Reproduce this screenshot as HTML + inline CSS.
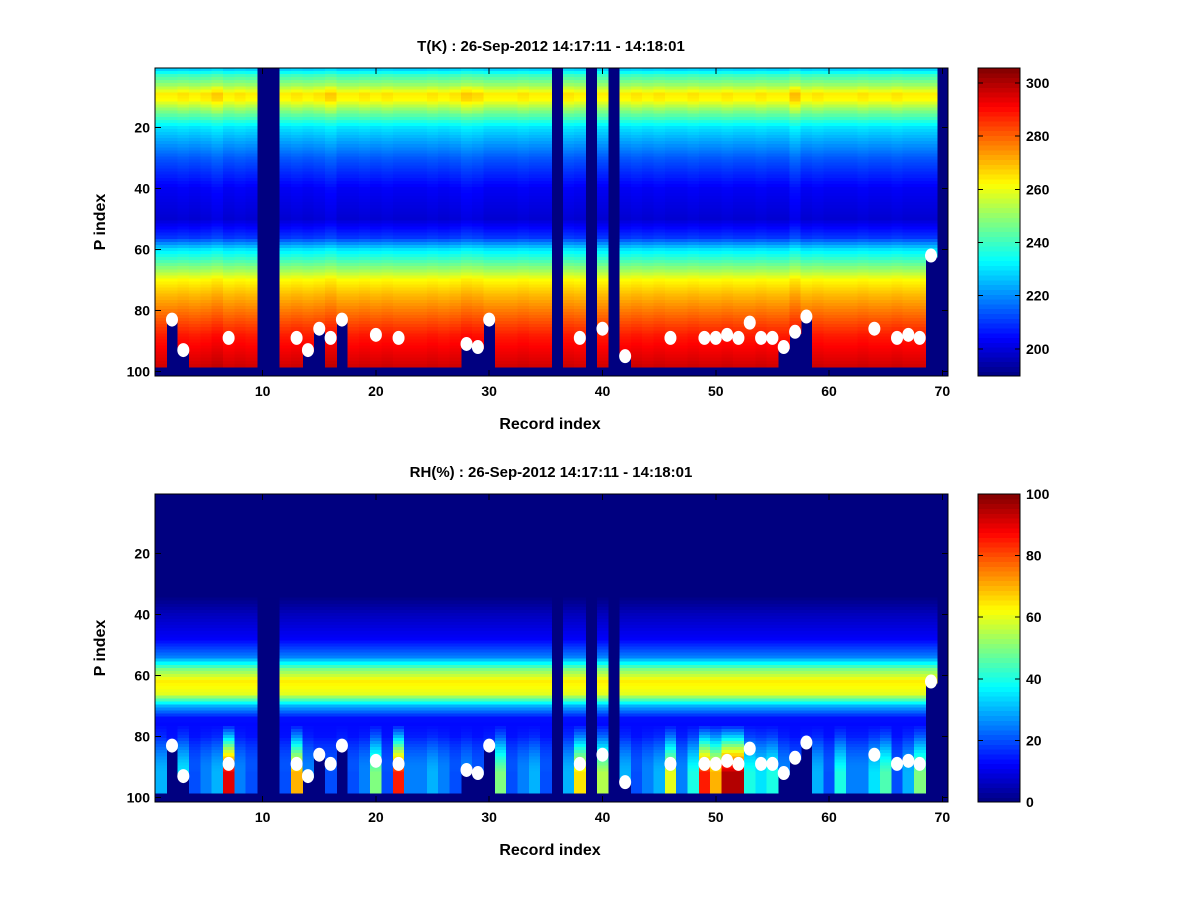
<!DOCTYPE html>
<html><head><meta charset="utf-8">
<style>
body{margin:0;background:#fff;}
svg text{font-family:"Liberation Sans",sans-serif;font-weight:bold;}
</style></head>
<body>
<svg id="fig" width="1200" height="900" xmlns="http://www.w3.org/2000/svg" shape-rendering="crispEdges">
<rect width="1200" height="900" fill="#fff"/>
</svg>
<script>
// ---- data ----
const records = Array.from({length:70},(_,i)=>i+1);
const missingCols = [10,11,36,39,41,70];
const dotCols = [2,3,7,13,14,15,16,17,20,22,28,29,30,38,40,42,46,49,50,51,52,53,54,55,56,57,58,64,66,67,68,69];
const dotP    = [83,93,89,89,93,86,89,83,88,89,91,92,83,89,86,95,89,89,89,88,89,84,89,89,92,87,82,86,89,88,89,62];
const darkBelowCols = [2,3,14,15,17,28,29,30,42,56,57,58,69];
const tProfP = [1,3,6,9,11,14,20,30,40,50,56,60,65,70,75,80,88,98];
const tProfV = [228,240,250,264,262,250,230,214,203,199,210,230,245,262,270,277,288,296];
const tColOff = [0,0,1,0,1,3,0,1,0,0,0,0,1,0,1,3,0,0,1,0,1,0,0,0,1,0,1,3,2,0,0,0,1,0,0,0,1,0,0,0,0,0,1,0,1,0,0,1,0,0,1,0,0,1,0,0,4,0,1,0,0,0,1,0,0,1,0,0,0,0];
const rhProfP = [1,34,40,48,54,58,62,66,70,74,80,86,92,98];
const rhProfV = [0,0,6,12,25,50,64,60,30,14,12,18,28,35];
const rhLow = [30,20,35,20,25,30,90,25,20,0,0,20,70,25,20,20,25,20,25,50,20,85,25,25,30,25,20,25,20,25,50,20,25,30,20,0,30,65,0,55,0,30,20,25,30,60,25,40,85,70,95,95,40,35,40,25,20,25,30,20,40,25,25,35,45,20,30,50,0,0];
const tTicks = [200,220,240,260,280,300];
const rhTicks = [0,20,40,60,80,100];
const xTicks = [10,20,30,40,50,60,70];
const yTicks = [20,40,60,80,100];

const svg=document.getElementById('fig');
const NS='http://www.w3.org/2000/svg';
function mk(tag,attrs,parent){const e=document.createElementNS(NS,tag);for(const k in attrs)e.setAttribute(k,attrs[k]);(parent||svg).appendChild(e);return e;}
function interp(P,V,p){if(p<=P[0])return V[0];for(let i=1;i<P.length;i++){if(p<=P[i]){const t=(p-P[i-1])/(P[i]-P[i-1]);return V[i-1]+t*(V[i]-V[i-1]);}}return V[V.length-1];}
function jet(t){t=Math.max(0,Math.min(1,t));const r=Math.max(0,Math.min(1,1.5-Math.abs(4*t-3)));const g=Math.max(0,Math.min(1,1.5-Math.abs(4*t-2)));const b=Math.max(0,Math.min(1,1.5-Math.abs(4*t-1)));return `rgb(${Math.round(r*255)},${Math.round(g*255)},${Math.round(b*255)})`;}

function panel(y0,title,valFn,vmin,vmax,cTicks,name){
  const x0=155,x1=948,y1=y0+308;
  const xs=v=>x0+(v-0.5)*(x1-x0)/70;
  const ys=v=>y0+(v-0.5)*(y1-y0)/101;
  const g=mk('g',{});
  
  
  const dark=jet(0);
  mk('rect',{x:x0,y:y0,width:x1-x0,height:y1-y0,fill:dark},g);
  records.forEach((c,ci)=>{
    if(missingCols.includes(c))return;
    const di=dotCols.indexOf(c);
    const cut=(di>=0&&darkBelowCols.includes(c))?dotP[di]:99;
    for(let p=1;p<=98;p++){
      if(p>cut)break;
      const v=valFn(c,ci,p);
      const r=mk('rect',{x:xs(c-0.5),y:ys(p-0.5),width:(x1-x0)/70+0.6,height:(y1-y0)/101+0.6,fill:jet((v-vmin)/(vmax-vmin))},g);
      
      
    }
  });
  dotCols.forEach((c,i)=>{
    const d=mk('ellipse',{cx:xs(c),cy:ys(dotP[i]),rx:6,ry:7,fill:'#fff','shape-rendering':'auto'});
    
    
  });
  mk('rect',{x:x0,y:y0,width:x1-x0,height:y1-y0,fill:'none',stroke:'#000','stroke-width':1});
  xTicks.forEach(t=>{
    mk('line',{x1:xs(t),x2:xs(t),y1:y1,y2:y1-6,stroke:'#000'});
    mk('line',{x1:xs(t),x2:xs(t),y1:y0,y2:y0+6,stroke:'#000'});
    const tx=mk('text',{x:xs(t),y:y1+20,'text-anchor':'middle','font-size':14});tx.textContent=t;
    
  });
  yTicks.forEach(t=>{
    mk('line',{x1:x0,x2:x0+6,y1:ys(t),y2:ys(t),stroke:'#000'});
    mk('line',{x1:x1,x2:x1-6,y1:ys(t),y2:ys(t),stroke:'#000'});
    const tx=mk('text',{x:x0-5,y:ys(t)+5,'text-anchor':'end','font-size':14});tx.textContent=t;
    
  });
  const ti=mk('text',{x:551,y:y0-17,'text-anchor':'middle','font-size':15});ti.textContent=title;
  
  const xl=mk('text',{x:550,y:y1+53,'text-anchor':'middle','font-size':16});xl.textContent='Record index';
  
  const yl=mk('text',{x:105,y:(y0+y1)/2,'text-anchor':'middle','font-size':16,transform:`rotate(-90 105 ${(y0+y1)/2})`});yl.textContent='P index';
  
  const cx0=978,cx1=1020;
  const cs=v=>y1-(v-vmin)*(y1-y0)/(vmax-vmin);
  const cb=mk('g',{});
  
  
  for(let i=0;i<64;i++){
    mk('rect',{x:cx0,y:y0+(63-i)*(y1-y0)/64,width:cx1-cx0,height:(y1-y0)/64+0.6,fill:jet((i+0.5)/64)},cb);
  }
  mk('rect',{x:cx0,y:y0,width:cx1-cx0,height:y1-y0,fill:'none',stroke:'#000'});
  cTicks.forEach(t=>{
    mk('line',{x1:cx0,x2:cx0+5,y1:cs(t),y2:cs(t),stroke:'#000'});
    mk('line',{x1:cx1,x2:cx1-5,y1:cs(t),y2:cs(t),stroke:'#000'});
    const tx=mk('text',{x:cx1+6,y:cs(t)+5,'font-size':14});tx.textContent=t;
    
  });
}
panel(68,'T(K) : 26-Sep-2012 14:17:11 - 14:18:01',
  (c,ci,p)=>interp(tProfP,tProfV,p)+tColOff[ci]*(p>6&&p<16?1.5:0.7),
  189.8,305.6,tTicks,'temperature');
panel(494,'RH(%) : 26-Sep-2012 14:17:11 - 14:18:01',
  (c,ci,p)=>{let v=interp(rhProfP,rhProfV,p);if(p>=76){v=v+(rhLow[ci]-v)*Math.min(1,(p-76)/16);}return v;},
  0,100,rhTicks,'humidity');
</script>
</body></html>
